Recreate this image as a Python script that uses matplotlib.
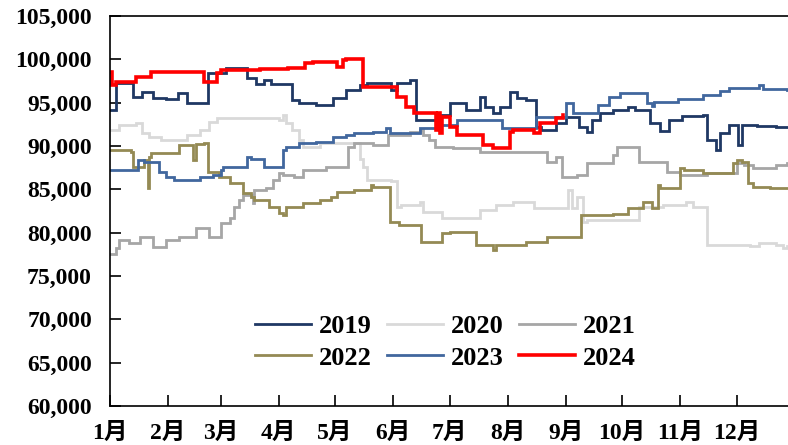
import matplotlib
matplotlib.use("Agg")
import matplotlib.pyplot as plt

plt.rcParams['font.family'] = ['Liberation Serif', 'Noto Sans CJK SC']
plt.rcParams['font.weight'] = 'bold'

# day of year (0 = 1 Jan) and price for each year
d2019 = [0, 3, 12, 17, 23, 30, 36, 41, 52, 62, 73, 78, 82, 86, 97, 101, 110, 119, 126,
         133, 137, 150, 153, 160, 163, 176, 181, 188, 190, 197, 200, 204, 208, 213, 217,
         222, 227, 230, 238, 243, 250, 254, 257, 261, 268, 276, 280, 288, 293, 298, 305,
         316, 318, 323, 325, 330, 335, 337, 345, 355, 361]
v2019 = [94200, 97300, 95650, 96200, 95500, 95400, 96100, 95000, 98400, 99000, 97800,
         97200, 97600, 97200, 95300, 95000, 94700, 95500, 96500, 97000, 97300, 96500,
         97300, 97600, 93000, 93600, 95000, 95000, 94200, 95650, 94500, 93800, 94500,
         96200, 95500, 95300, 92200, 91850, 92600, 93300, 92200, 91600, 93000, 93800,
         94200, 94500, 94200, 92600, 91700, 93000, 93500, 93600, 90700, 89500, 91500,
         92400, 90100, 92400, 92300, 92200, 92200]

d2020 = [0, 5, 14, 17, 21, 27, 41, 48, 53, 57, 90, 92, 94, 97, 101, 103, 112, 127, 133,
         135, 137, 150, 153, 155, 165, 167, 177, 197, 206, 215, 226, 244, 246, 249, 252,
         254, 270, 282, 295, 307, 311, 318, 341, 346, 355, 359, 361]
v2020 = [91850, 92400, 92600, 91500, 91000, 90700, 91300, 91850, 92800, 93200, 93000,
         93600, 92600, 91850, 90700, 89900, 90300, 90300, 88500, 87600, 86100, 86000,
         83000, 83200, 83500, 82400, 81700, 82600, 83200, 83500, 82850, 84900, 82850,
         84100, 81250, 81500, 81500, 83000, 83200, 83500, 83000, 78600, 78500, 78800,
         78600, 78200, 78500]

d2021 = [0, 3, 5, 10, 16, 23, 30, 37, 46, 53, 59, 64, 66, 69, 71, 76, 77, 83, 87, 90,
         92, 98, 103, 115, 127, 130, 140, 148, 160, 165, 167, 170, 173, 183, 197, 230,
         233, 238, 241, 249, 254, 268, 270, 282, 297, 304, 318, 334, 338, 343, 355, 361]
v2021 = [77500, 78200, 79200, 78800, 79500, 78400, 79200, 79500, 80500, 79500, 81100,
         81700, 83000, 83800, 84350, 83400, 84900, 85100, 86100, 86900, 86650, 86400,
         87200, 87600, 89900, 90300, 90100, 91300, 91600, 91800, 91300, 90700, 89900,
         89800, 89300, 89300, 88100, 88700, 86400, 86700, 88000, 89000, 89900, 88150,
         87000, 86650, 86900, 88000, 87800, 87500, 87800, 88000]

d2022 = [0, 11, 12, 18, 20, 21, 22, 37, 44, 46, 50, 52, 58, 64, 71, 75, 77, 85, 90, 92,
         94, 103, 112, 118, 121, 130, 139, 140, 149, 154, 166, 177, 181, 195, 204, 206,
         222, 233, 251, 268, 276, 284, 289, 292, 293, 304, 306, 316, 332, 334, 337, 340,
         343, 352, 361]
v2022 = [89550, 89300, 87600, 88400, 85150, 88750, 89200, 90100, 88400, 90200, 90350,
         87000, 86400, 85700, 84600, 84100, 83800, 83000, 82300, 82000, 83000, 83400,
         83800, 84100, 84700, 84900, 85500, 85300, 81250, 80900, 78900, 80000, 80100,
         78600, 78000, 78600, 78900, 79500, 82000, 82200, 82850, 83500, 82900, 85500,
         85150, 87500, 87250, 86900, 88000, 88400, 88100, 85700, 85300, 85100, 85100]

d2023 = [0, 15, 18, 26, 30, 34, 48, 55, 59, 60, 73, 75, 82, 92, 94, 101, 110, 119, 126,
         130, 140, 147, 149, 165, 175, 185, 209, 227, 243, 247, 260, 266, 272, 286, 289,
         290, 303, 316, 325, 330, 346, 348, 361]
v2023 = [87250, 88400, 88150, 87000, 86400, 86100, 86400, 86700, 87250, 87600, 88750,
         88500, 87600, 89550, 89900, 90300, 90500, 91000, 91300, 91500, 91600, 92100,
         91500, 92100, 92400, 93000, 92100, 93400, 95000, 93800, 94700, 95650, 96100,
         95000, 94600, 95100, 95400, 95900, 96300, 96700, 97000, 96600, 96500]

d2024 = [0, 1, 3, 14, 22, 50, 57, 59, 80, 95, 104, 108, 121, 124, 126, 135, 153, 158,
         162, 174, 175, 176, 177, 181, 185, 199, 204, 213, 215, 226, 229, 238, 241.5]
v2024 = [98500, 97000, 97400, 97970, 98550, 97400, 98400, 98800, 98900, 99000, 99600,
         99700, 99100, 99900, 100000, 96800, 95600, 94500, 93800, 91850, 93800, 91500,
         93300, 92200, 91300, 90100, 89800, 91600, 91850, 91500, 92600, 93200, 93600]

years = ['2019', '2020', '2021', '2022', '2023', '2024']
colors = ['#1F3864', '#D9D9D9', '#A6A6A6', '#948A54', '#41679E', '#FF0000']
widths = [2.0, 2.0, 2.0, 2.0, 2.0, 2.6]

month_days = [0, 31, 59, 90, 120, 151, 181, 212, 243, 273, 304, 334]
month_labels = ['1月', '2月', '3月', '4月', '5月', '6月', '7月', '8月', '9月', '10月', '11月', '12月']

fig = plt.figure(figsize=(7.88, 4.45), dpi=100)
ax = fig.add_axes([110 / 788, 39 / 445, 678 / 788, 390 / 445])

series = [(d2019, v2019), (d2020, v2020), (d2021, v2021),
          (d2022, v2022), (d2023, v2023), (d2024, v2024)]
lines = []
for (d, v), name, c, lw in zip(series, years, colors, widths):
    ln, = ax.plot(d, v, color=c, lw=lw, drawstyle='steps-post', label=name,
                  solid_joinstyle='miter')
    lines.append(ln)

ax.set_xlim(0, 361.4)
ax.set_ylim(60000, 105000)
ax.set_yticks(range(60000, 105001, 5000))
ax.set_yticklabels([f'{t:,}' for t in range(60000, 105001, 5000)])
ax.set_xticks(month_days)
ax.set_xticklabels(month_labels)

ax.spines['right'].set_visible(False)
for s in ['left', 'bottom', 'top']:
    ax.spines[s].set_linewidth(1.2)
ax.tick_params(axis='y', direction='in', length=8, width=1.2, pad=13, labelsize=17)
ax.tick_params(axis='x', direction='in', length=8, width=1.2, pad=12, labelsize=17)

# legend fills column by column, so order handles to read row-wise
order = [0, 3, 1, 4, 2, 5]
leg = ax.legend([lines[i] for i in order], [years[i] for i in order],
                ncol=3, loc='center', bbox_to_anchor=(0.565, 0.231),
                bbox_transform=fig.transFigure, frameon=False,
                prop={'size': 19, 'weight': 'bold'}, handlelength=2.1,
                handletextpad=0.3, columnspacing=0.6, labelspacing=0.3)

fig.savefig('out.png', dpi=100)
